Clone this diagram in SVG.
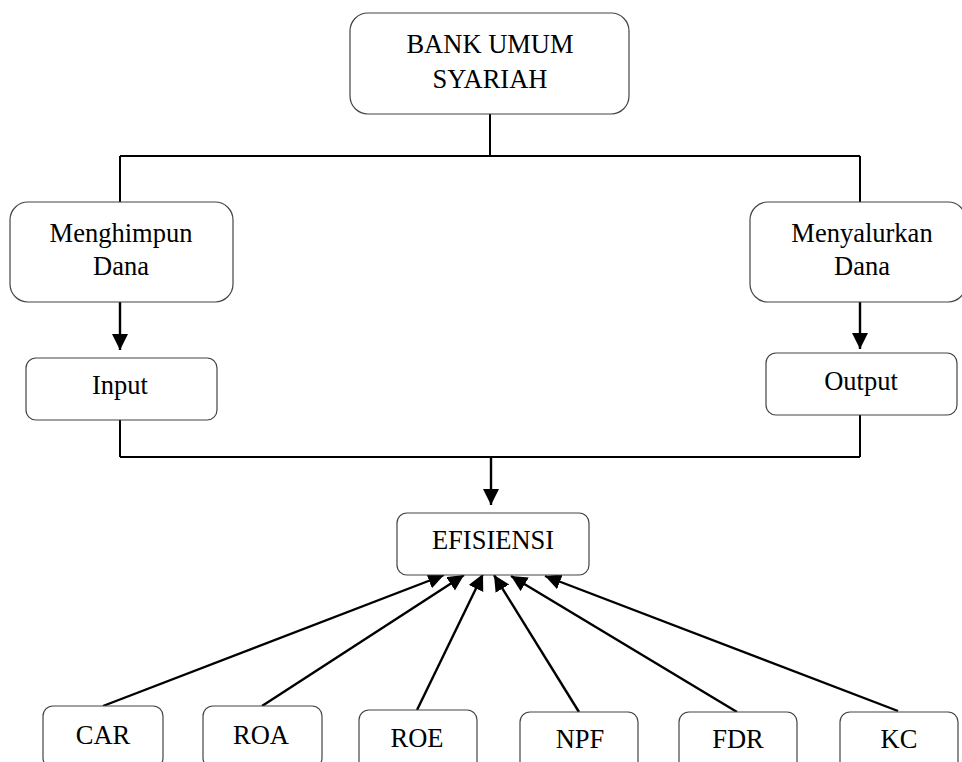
<svg xmlns="http://www.w3.org/2000/svg" width="962" height="762" viewBox="0 0 962 762">
<style>
.box{fill:#fff;stroke:#444;stroke-width:1.2}
.t{font-family:"Liberation Serif","Times New Roman",serif;font-size:26.5px;fill:#000;text-anchor:middle}
.c{stroke:#000;stroke-width:2;fill:none}
.a{stroke:#000;stroke-width:2.4;fill:none;marker-end:url(#ah)}
</style>
<defs>
<marker id="ah" markerUnits="userSpaceOnUse" markerWidth="18" markerHeight="18" refX="16" refY="8" orient="auto">
<path d="M0,0 L16,8 L0,16 Z" fill="#000"/>
</marker>
</defs>
<rect width="962" height="762" fill="#fff"/>
<g id="connectors">
<path class="c" d="M490,114 V156 M120,156 H860 M120,156 V202 M860,156 V202"/>
<path class="a" d="M120,302 V350"/>
<path class="a" d="M860,302 V349"/>
<path class="c" d="M120,420 V457 M860,415 V457 M120,457 H860"/>
<path class="a" d="M491,457 V505"/>
<line class="a" x1="103" y1="706" x2="444" y2="575"/>
<line class="a" x1="262" y1="706" x2="464" y2="575"/>
<line class="a" x1="417" y1="710" x2="483" y2="574"/>
<line class="a" x1="579" y1="712" x2="494" y2="575"/>
<line class="a" x1="737" y1="712" x2="511" y2="576"/>
<line class="a" x1="898" y1="711" x2="545" y2="576"/>
</g>
<g id="bank"><rect class="box" x="350" y="13" width="279" height="101" rx="18"/><text class="t" x="490" y="53">BANK UMUM</text><text class="t" x="490" y="88">SYARIAH</text></g>
<g id="menghimpun"><rect class="box" x="10" y="202" width="223" height="100" rx="18"/><text class="t" x="121" y="242">Menghimpun</text><text class="t" x="121" y="275">Dana</text></g>
<g id="menyalurkan"><rect class="box" x="750" y="202" width="216" height="100" rx="18"/><text class="t" x="862" y="242">Menyalurkan</text><text class="t" x="862" y="275">Dana</text></g>
<g id="input"><rect class="box" x="26" y="358" width="191" height="62" rx="10"/><text class="t" x="120" y="394">Input</text></g>
<g id="output"><rect class="box" x="766" y="353" width="191" height="62" rx="10"/><text class="t" x="861" y="390">Output</text></g>
<g id="efisiensi"><rect class="box" x="397" y="513" width="192" height="62" rx="10"/><text class="t" x="493" y="549">EFISIENSI</text></g>
<g id="car"><rect class="box" x="43" y="706" width="120" height="62" rx="10"/><text class="t" x="103" y="744">CAR</text></g>
<g id="roa"><rect class="box" x="203" y="706" width="119" height="62" rx="10"/><text class="t" x="261" y="744">ROA</text></g>
<g id="roe"><rect class="box" x="359" y="710" width="118" height="62" rx="10"/><text class="t" x="417" y="747">ROE</text></g>
<g id="npf"><rect class="box" x="520" y="712" width="118" height="62" rx="10"/><text class="t" x="580" y="748">NPF</text></g>
<g id="fdr"><rect class="box" x="679" y="712" width="118" height="62" rx="10"/><text class="t" x="738" y="748">FDR</text></g>
<g id="kc"><rect class="box" x="840" y="712" width="118" height="62" rx="10"/><text class="t" x="899" y="748">KC</text></g>
</svg>
